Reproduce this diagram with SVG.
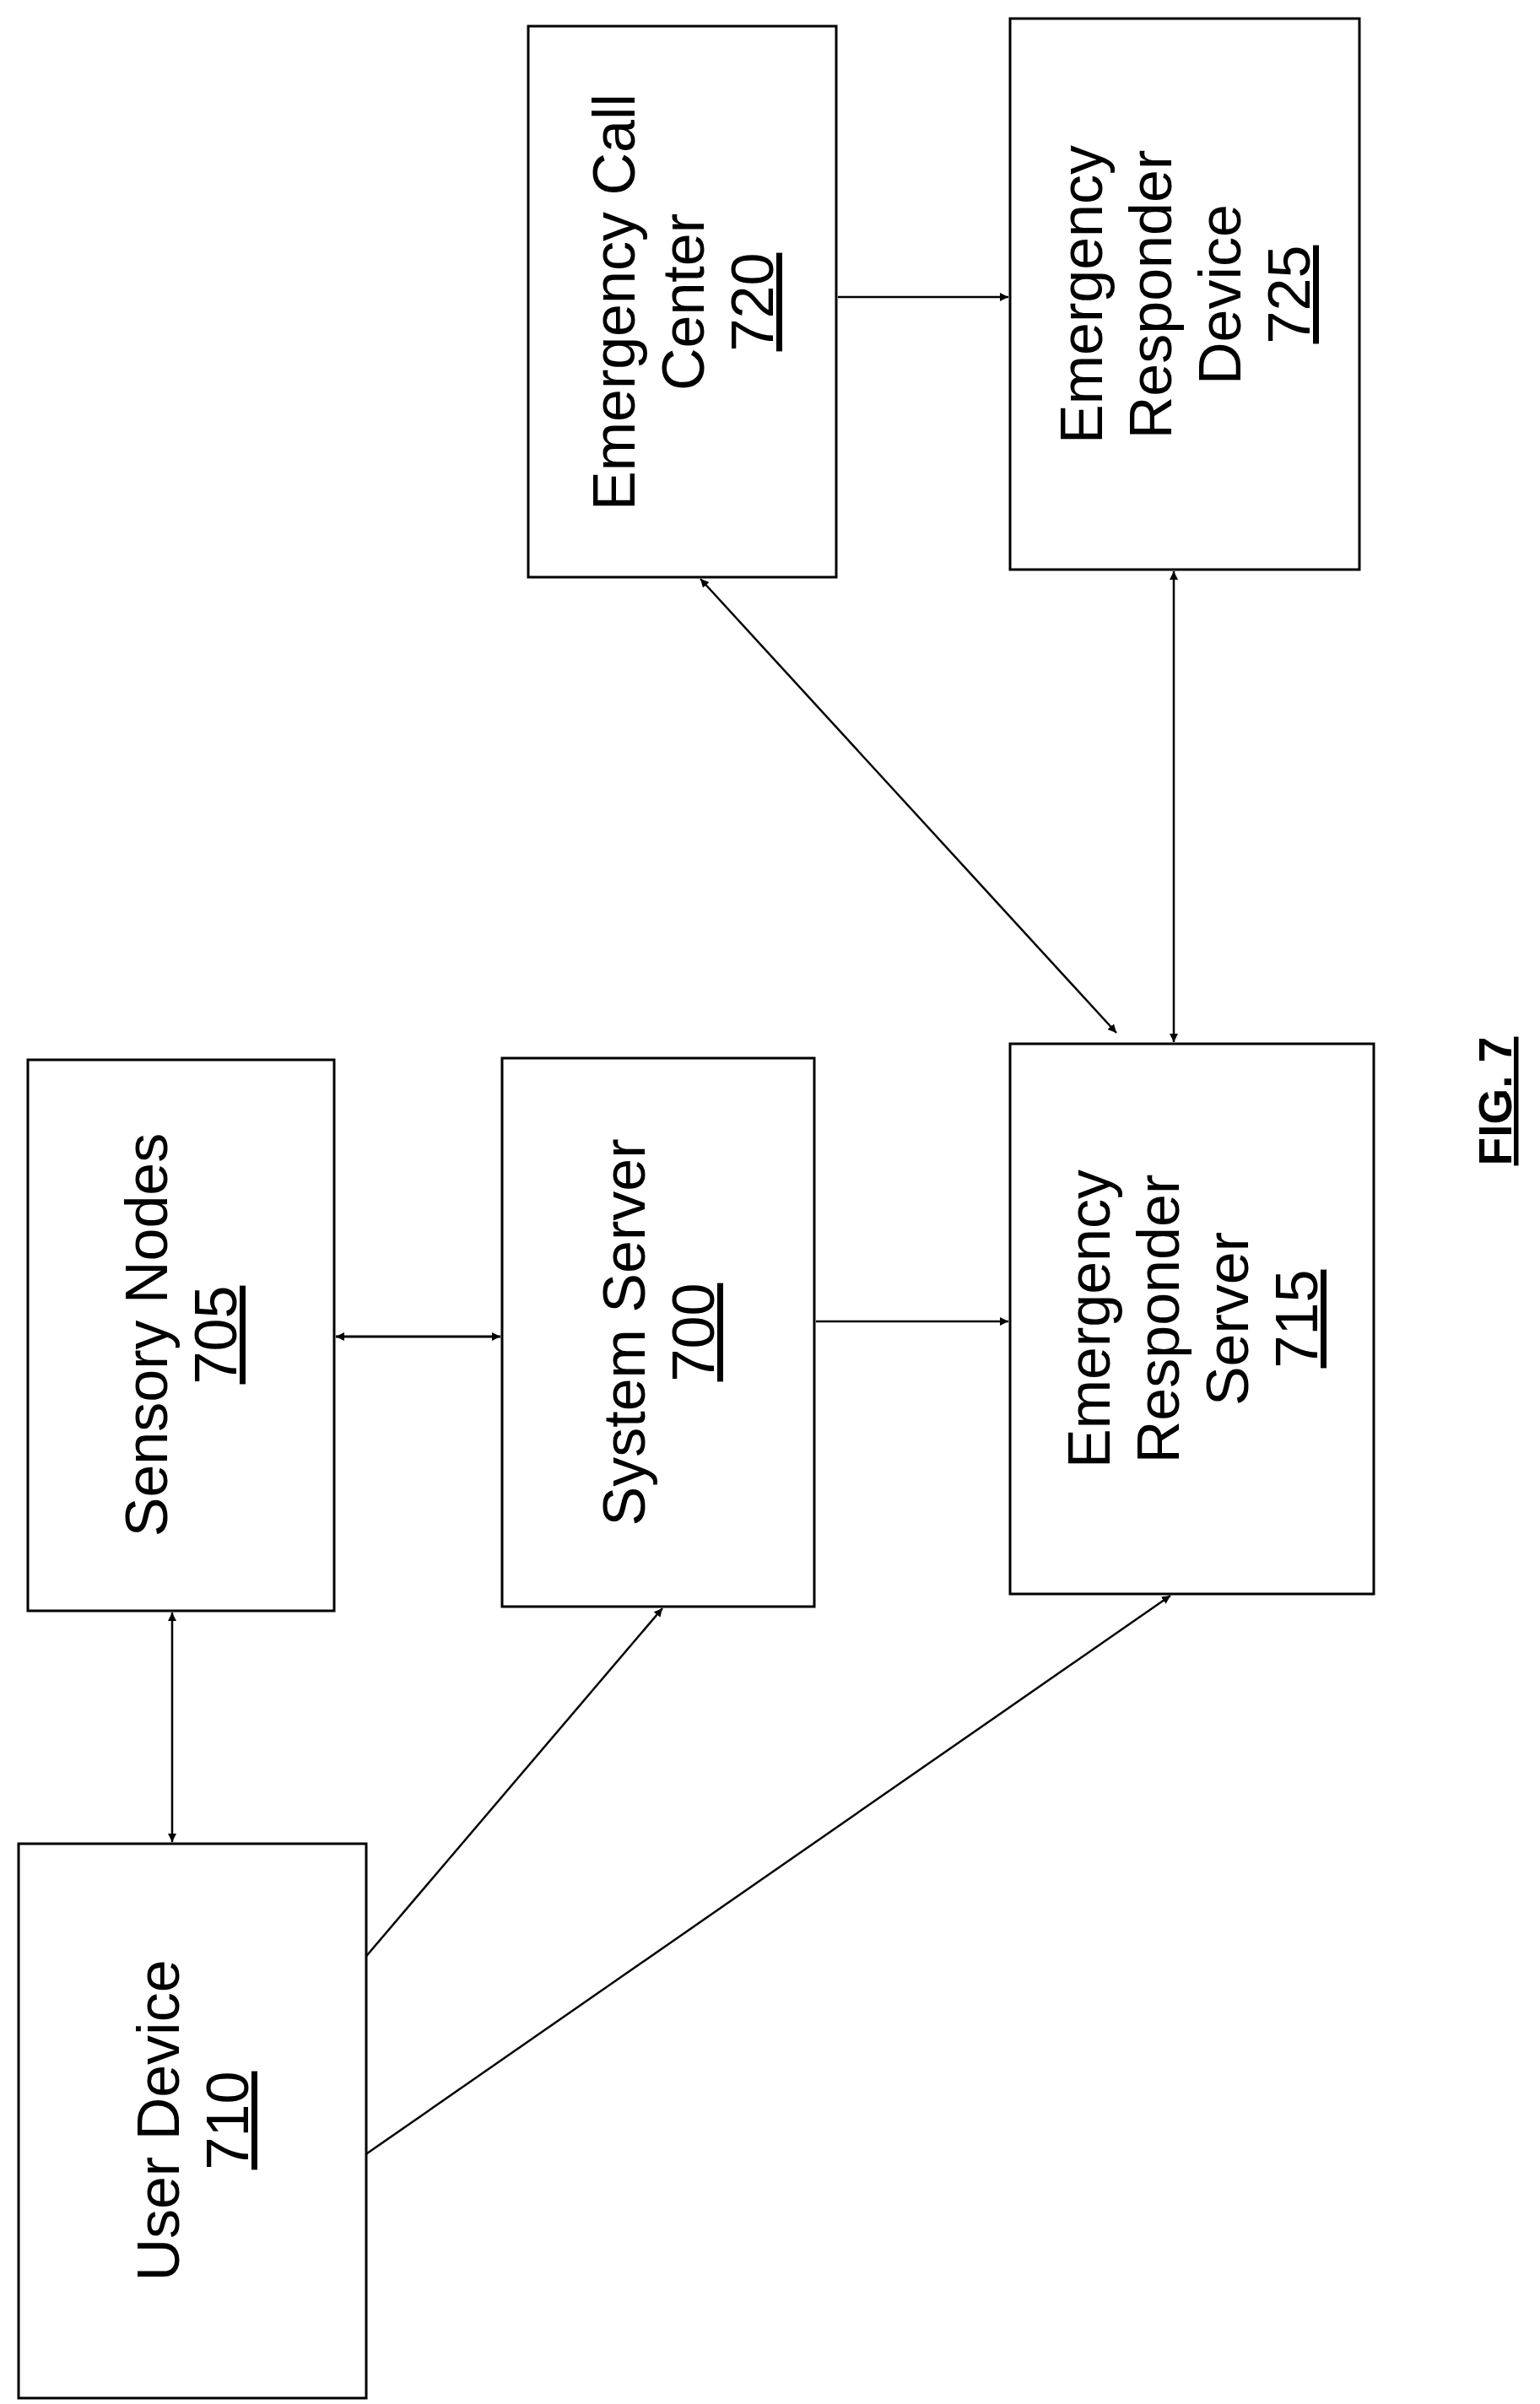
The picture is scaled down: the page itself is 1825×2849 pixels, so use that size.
<svg xmlns="http://www.w3.org/2000/svg" width="1825" height="2849" viewBox="0 0 1825 2849">
<style>
rect{fill:#fff;stroke:#000;stroke-width:3}
text{font-family:"Liberation Sans",Arial,sans-serif;font-size:70px;text-anchor:middle;fill:#000}
.u{text-decoration:underline}
.c line{stroke:#000;stroke-width:2.5}
</style>
<defs>
<marker id="a" viewBox="0 0 10 10" refX="10" refY="5" markerWidth="10" markerHeight="10" markerUnits="userSpaceOnUse" orient="auto-start-reverse"><path d="M0,0L10,5L0,10z"/></marker>
</defs>
<rect width="1825" height="2849" style="stroke:none"/>
<g class="c">
<line x1="398" y1="1584" x2="593" y2="1584" marker-start="url(#a)" marker-end="url(#a)" style="stroke-width:3"/>
<line x1="967" y1="1566" x2="1195" y2="1566" marker-end="url(#a)"/>
<line x1="204" y1="1911" x2="204" y2="2183" marker-start="url(#a)" marker-end="url(#a)"/>
<line x1="785" y1="1906" x2="390" y2="2370" marker-start="url(#a)" marker-end="url(#a)"/>
<line x1="1387" y1="1891" x2="399" y2="2577" marker-start="url(#a)" marker-end="url(#a)"/>
<line x1="830" y1="686" x2="1323" y2="1224" marker-start="url(#a)" marker-end="url(#a)"/>
<line x1="1391" y1="677" x2="1391" y2="1235" marker-start="url(#a)" marker-end="url(#a)"/>
<line x1="993" y1="352" x2="1195" y2="352" marker-end="url(#a)"/>
</g>
<g id="n705"><rect x="33" y="1256" width="363" height="653"/>
<text transform="rotate(-90 214 1582)" x="214" y="1566"><tspan x="214">Sensory Nodes</tspan><tspan x="214" dy="82" class="u">705</tspan></text></g>
<g id="n700"><rect x="595" y="1254" width="370" height="650"/>
<text transform="rotate(-90 780 1579)" x="780" y="1563"><tspan x="780">System Server</tspan><tspan x="780" dy="82" class="u">700</tspan></text></g>
<g id="n715"><rect x="1197" y="1237" width="431" height="652"/>
<text transform="rotate(-90 1413 1563)" x="1413" y="1465"><tspan x="1413">Emergency</tspan><tspan x="1413" dy="82">Responder</tspan><tspan x="1413" dy="82">Server</tspan><tspan x="1413" dy="82" class="u">715</tspan></text></g>
<g id="n710"><rect x="22" y="2185" width="412" height="657"/>
<text transform="rotate(-90 228 2513)" x="228" y="2497"><tspan x="228">User Device</tspan><tspan x="228" dy="82" class="u">710</tspan></text></g>
<g id="n720"><rect x="626" y="31" width="365" height="653"/>
<text transform="rotate(-90 809 358)" x="809" y="301"><tspan x="809">Emergency Call</tspan><tspan x="809" dy="82">Center</tspan><tspan x="809" dy="82" class="u">720</tspan></text></g>
<g id="n725"><rect x="1197" y="22" width="414" height="653"/>
<text transform="rotate(-90 1404 349)" x="1404" y="251"><tspan x="1404">Emergency</tspan><tspan x="1404" dy="82">Responder</tspan><tspan x="1404" dy="82">Device</tspan><tspan x="1404" dy="82" class="u">725</tspan></text></g>
<text transform="rotate(-90 1771 1305)" x="1771" y="1325" class="u" style="font-weight:bold;font-size:55px">FIG. 7</text>
</svg>
